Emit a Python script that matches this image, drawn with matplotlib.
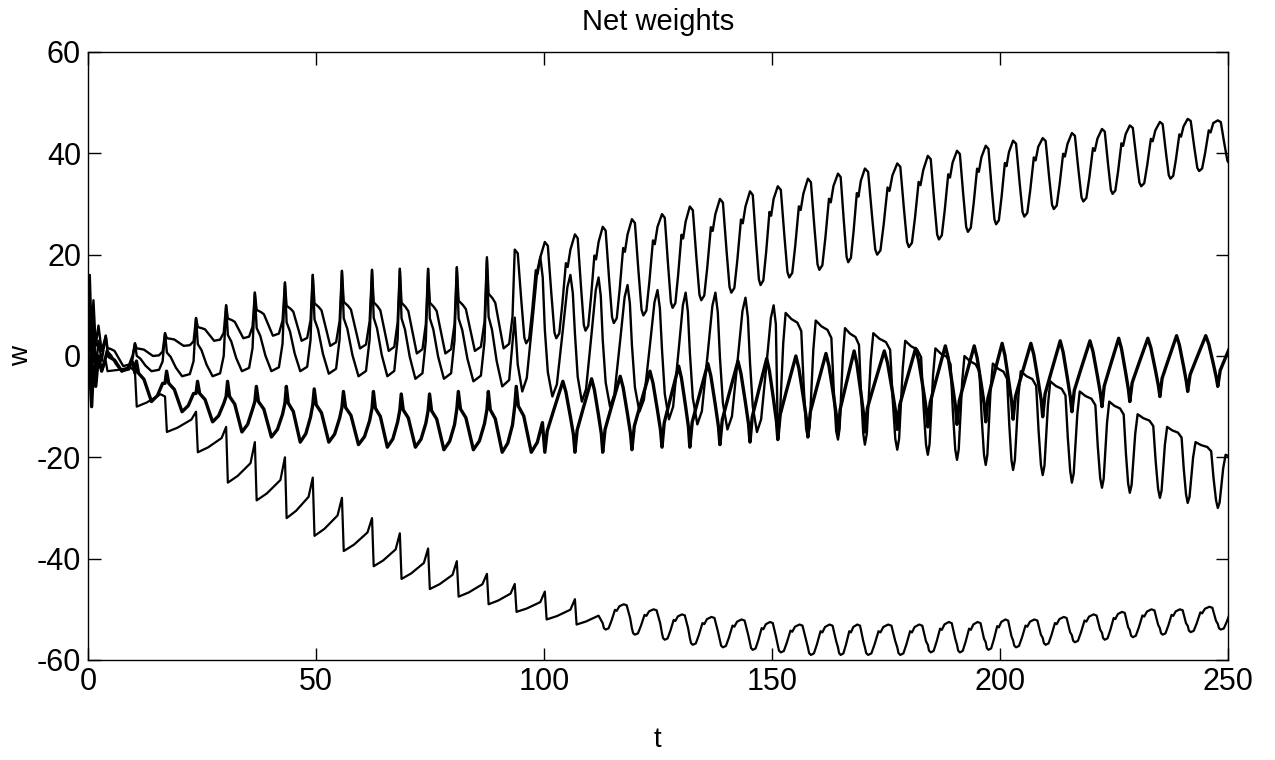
import numpy as np
import matplotlib
matplotlib.use("Agg")
import matplotlib.pyplot as plt

plt.rcParams['font.family'] = ['Liberation Sans', 'DejaVu Sans']
plt.rcParams['axes.unicode_minus'] = False

# spike times of each cycle
t_spike = [3.9, 10.3, 16.9, 23.7, 30.3, 36.6, 43.2, 49.3, 55.7, 62.3, 68.4, 74.6,
           80.9, 87.5, 93.6, 100.2, 106.8, 112.9, 119.3, 125.9, 132.0, 138.6,
           145.2, 151.3, 157.9, 164.5, 170.4, 177.5, 184.2, 190.6, 196.9, 202.9,
           209.4, 215.8, 222.4, 228.5, 235.1, 241.2, 247.8]

# start-up burst
start_t = [0, 0.4, 0.8, 1.2, 1.7, 2.3, 3.0]
a_start = [0, 16, 4, 11, 2, 6, 1]
b_start = [0, -3, -10, -2, -6, 0, -3]
c_start = [0, 9, -2, 8, -3, 3, -1]
d_start = [0, 5, -6, 3, -4, -1, -3]

# per-cycle high / low values of the four weights
a_hi = [4, 2.5, 4.5, 7.5, 10, 12.5, 14.5, 16, 16.8, 17, 17.2, 17.2, 17.5, 19.5,
        21, 22.5, 24, 25.5, 27, 28, 29.5, 31, 32.5, 33.5, 35, 36, 37, 38, 39.5,
        40.5, 41.5, 42.5, 43, 44, 44.8, 45.5, 46.2, 46.8, 46.5]
a_lo = [-2, 0, 2, 3, 3.5, 4, 3, 2, 1.5, 1, 0.5, 0.5, 1, 1.5, 2.5, 3.5, 5, 6.5,
        8, 9.5, 11, 12.5, 14, 15.5, 17, 18.5, 20, 21.5, 23, 24.5, 26, 27.5, 29,
        30.5, 32, 33.5, 35, 36.5, 38]
b_hi = [1, -1, -3, -5, -5, -6, -6, -6.5, -7, -7, -7.5, -7.5, -7, -7, -6, -5,
        -4.5, -4, -3, -2, -1.5, -1, -0.5, 0, 0.5, 1, 1, 1.5, 2, 2, 2.5, 2.5, 3,
        3, 3.5, 3.5, 4, 4, 4.5]
b_lo = [-3, -9, -11, -13, -15, -16, -17, -17, -17.5, -18, -18, -18.5, -18.5,
        -19, -19, -19, -19, -19, -18.5, -18, -18, -17.5, -17, -16.5, -16, -15.5,
        -15, -14.5, -14, -13.5, -13, -12.5, -12, -11, -10, -9, -8, -7, -6]
c_hi = [4, 2.5, 4.5, 7.5, 10, 12.5, 14.5, 16, 16.8, 17, 17.2, 17.2, 17.5, 19,
        19.5, 16, 15.5, 14, 13, 12.5, 12.5, 11.5, 10, 8.5, 7, 5.5, 4.5, 3, 1.5,
        0, -1.5, -3, -5, -7, -9, -11.5, -14, -17, -19.5]
c_lo = [-3, -3, -4, -4, -3, -3, -3, -3.5, -4, -4, -4.5, -4.5, -5, -6, -7, -8,
        -9, -10, -11, -12.5, -13.5, -14.5, -15, -15.5, -16, -16.5, -17.5, -18.5,
        -19.5, -20.5, -21.5, -22.5, -23.5, -25, -26, -27, -28, -29, -30]
d_hi = [-1, -3, -8, -11, -14, -17, -20, -24, -28, -32, -35, -38, -40.5, -43,
        -45, -46.5, -48, -49, -50, -51, -51.5, -52, -52.5, -53, -53, -53, -53,
        -53, -52.5, -52.5, -52, -52, -51.5, -51, -50.5, -50, -50, -49.5, -49.5]
d_lo = [-3, -10, -15, -19, -25, -28.5, -32, -35.5, -38.5, -41.5, -44, -46, -47.5,
        -49, -50.5, -52, -53, -54, -55, -56, -57, -57.5, -58, -58.5, -59, -59,
        -59, -59, -58.5, -58.5, -58, -57.5, -57, -56.5, -56, -55.5, -55, -54.5, -54]

# cycle shapes: (phase, level) with level 0 = low, 1 = high
spiky = [(0, 1), (0.06, 0.6), (0.2, 0.55), (0.3, 0.5), (0.45, 0.25), (0.6, 0.0),
         (0.8, 0.05), (0.92, 0.35)]
spiky_c = [(0, 1), (0.06, 0.55), (0.18, 0.45), (0.35, 0.2), (0.55, 0.0),
           (0.8, 0.05), (0.92, 0.35)]
square = [(0, 1), (0.10, 0.96), (0.22, 0.45), (0.32, 0.06), (0.38, 0.0),
          (0.48, 0.05), (0.58, 0.35), (0.70, 0.78), (0.76, 0.74), (0.85, 0.92)]
mid_c = [(0, 0.55), (0.1, 0.2), (0.25, 0.0), (0.4, 0.1), (0.6, 0.55),
         (0.75, 0.9), (0.85, 1.0), (0.93, 0.85)]
late_c = [(0, 0.0), (0.06, 0.1), (0.18, 0.75), (0.26, 1.0), (0.45, 0.95),
          (0.65, 0.92), (0.78, 0.85), (0.86, 0.4), (0.94, 0.05)]
early_b = [(0, 0.7), (0.05, 1.0), (0.12, 0.7), (0.3, 0.55), (0.55, 0.0),
           (0.75, 0.15), (0.92, 0.45)]
late_b = [(0, 0.0), (0.08, 0.3), (0.3, 0.6), (0.6, 1.0), (0.7, 0.85),
          (0.85, 0.5), (0.95, 0.25)]
saw_d = [(0, 1), (0.06, 0.0), (0.4, 0.12), (0.85, 0.35)]
late_d = [(0, 0.25), (0.04, 0.06), (0.10, 0.0), (0.20, 0.05), (0.30, 0.35),
          (0.42, 0.78), (0.48, 0.74), (0.57, 0.92), (0.72, 1.0), (0.82, 0.96),
          (0.94, 0.45)]


def build(t0, v0, hi, lo, pick):
    xs, ys = list(t0), list(v0)
    n = len(t_spike)
    for k in range(n):
        tk = t_spike[k]
        P = t_spike[k + 1] - tk if k + 1 < n else tk - t_spike[k - 1]
        shape = pick(k)
        pts = shape + [(1.0, shape[0][1])] if k == n - 1 else shape
        for p, lev in pts:
            xs.append(tk + p * P)
            ys.append(lo[k] + lev * (hi[k] - lo[k]))
    return xs, ys


series = [
    (a_start, a_hi, a_lo, lambda k: spiky if k <= 13 else square, 1.7),
    (c_start, c_hi, c_lo,
     lambda k: spiky_c if k <= 13 else (mid_c if k <= 22 else late_c), 1.7),
    (b_start, b_hi, b_lo, lambda k: early_b if k <= 14 else late_b, 2.4),
    (d_start, d_hi, d_lo, lambda k: saw_d if k <= 16 else late_d, 1.6),
]

fig = plt.figure(figsize=(12.75, 7.6), dpi=100)
ax = fig.add_axes([0.069, 0.1316, 0.894, 0.80])

for v0, hi, lo, pick, lw in series:
    x, y = build(start_t, v0, hi, lo, pick)
    ax.plot(x, y, color='black', lw=lw, solid_joinstyle='round')

ax.set_xlim(0, 250)
ax.set_ylim(-60, 60)
ax.set_xticks([0, 50, 100, 150, 200, 250])
ax.set_yticks([-60, -40, -20, 0, 20, 40, 60])
ax.tick_params(direction='in', top=True, right=True, length=9, width=1,
               labelsize=22, pad=5)
for s in ax.spines.values():
    s.set_linewidth(1.0)
ax.set_title('Net weights', fontsize=21, pad=16)
ax.set_xlabel('t', fontsize=20, labelpad=22)
ax.set_ylabel('w', fontsize=20, labelpad=2)

fig.savefig('out.png', dpi=100)
